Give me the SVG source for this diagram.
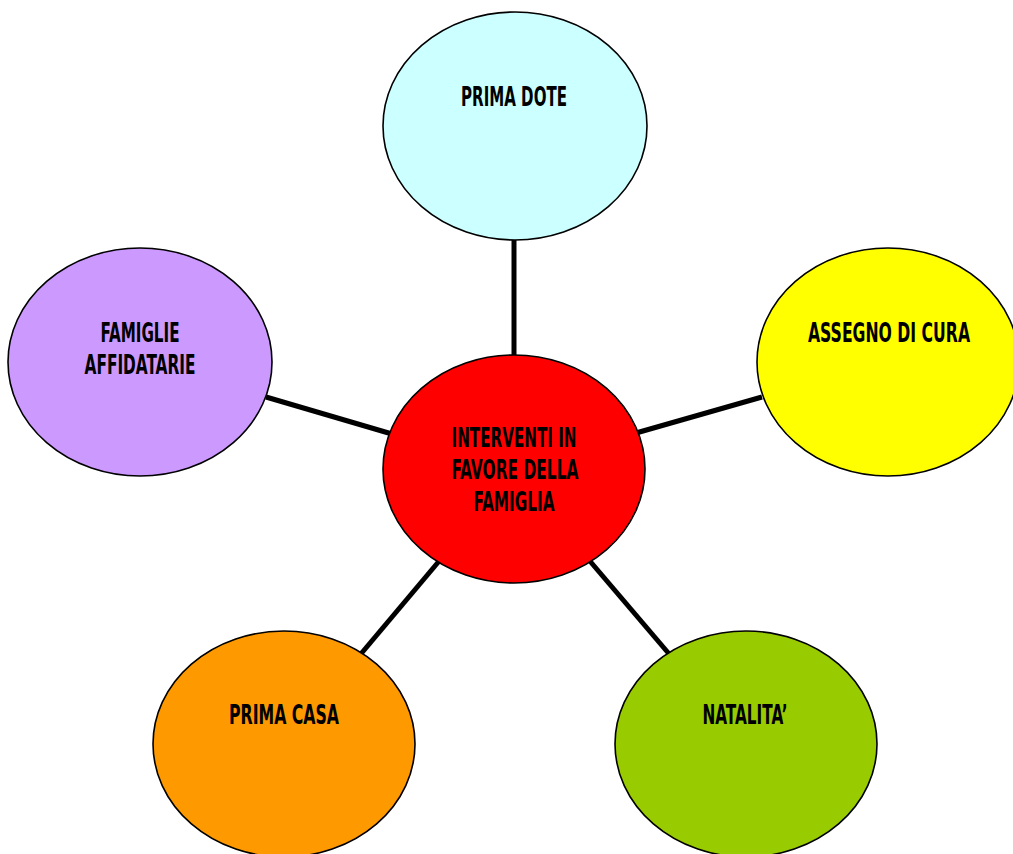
<svg xmlns="http://www.w3.org/2000/svg" width="1013" height="854" viewBox="0 0 1013 854">
<style>
.node{stroke:#000;stroke-width:1.6}
.lbl{font-family:"DejaVu Sans Condensed","Liberation Sans",sans-serif;font-weight:bold;font-size:26px;fill:#000;text-anchor:middle}
.conn line{stroke:#000;stroke-width:5}
</style>
<rect width="1013" height="854" fill="#fff"/>
<g id="connectors" class="conn">
<line x1="514" y1="238" x2="514" y2="360"/>
<line x1="266" y1="397" x2="392" y2="434"/>
<line x1="636" y1="433" x2="762" y2="397"/>
<line x1="440" y1="560" x2="360" y2="655"/>
<line x1="589" y1="560" x2="670" y2="655"/>
</g>
<g id="n-prima-dote">
<ellipse class="node" cx="515" cy="126" rx="132" ry="114" fill="#ccffff"/>
<text class="lbl" x="514" y="106" textLength="106" lengthAdjust="spacingAndGlyphs">PRIMA DOTE</text>
</g>
<g id="n-assegno">
<ellipse class="node" cx="888" cy="362" rx="131" ry="114" fill="#ffff00"/>
<text class="lbl" x="889" y="342" textLength="162" lengthAdjust="spacingAndGlyphs">ASSEGNO DI CURA</text>
</g>
<g id="n-famiglie">
<ellipse class="node" cx="140" cy="362" rx="132" ry="114" fill="#cc99ff"/>
<text class="lbl" x="140" y="342" textLength="79" lengthAdjust="spacingAndGlyphs">FAMIGLIE</text>
<text class="lbl" x="140" y="374" textLength="111" lengthAdjust="spacingAndGlyphs">AFFIDATARIE</text>
</g>
<g id="n-center">
<ellipse class="node" cx="514" cy="469" rx="131" ry="114" fill="#ff0000"/>
<text class="lbl" x="514" y="447" textLength="125" lengthAdjust="spacingAndGlyphs">INTERVENTI IN</text>
<text class="lbl" x="515" y="479" textLength="127" lengthAdjust="spacingAndGlyphs">FAVORE DELLA</text>
<text class="lbl" x="514" y="511" textLength="81" lengthAdjust="spacingAndGlyphs">FAMIGLIA</text>
</g>
<g id="n-prima-casa">
<ellipse class="node" cx="284" cy="744" rx="131" ry="113" fill="#ff9900"/>
<text class="lbl" x="284" y="724" textLength="110" lengthAdjust="spacingAndGlyphs">PRIMA CASA</text>
</g>
<g id="n-natalita">
<ellipse class="node" cx="746" cy="744" rx="131" ry="113" fill="#99cc00"/>
<text class="lbl" x="745" y="724" textLength="85" lengthAdjust="spacingAndGlyphs">NATALITA’</text>
</g>
</svg>
